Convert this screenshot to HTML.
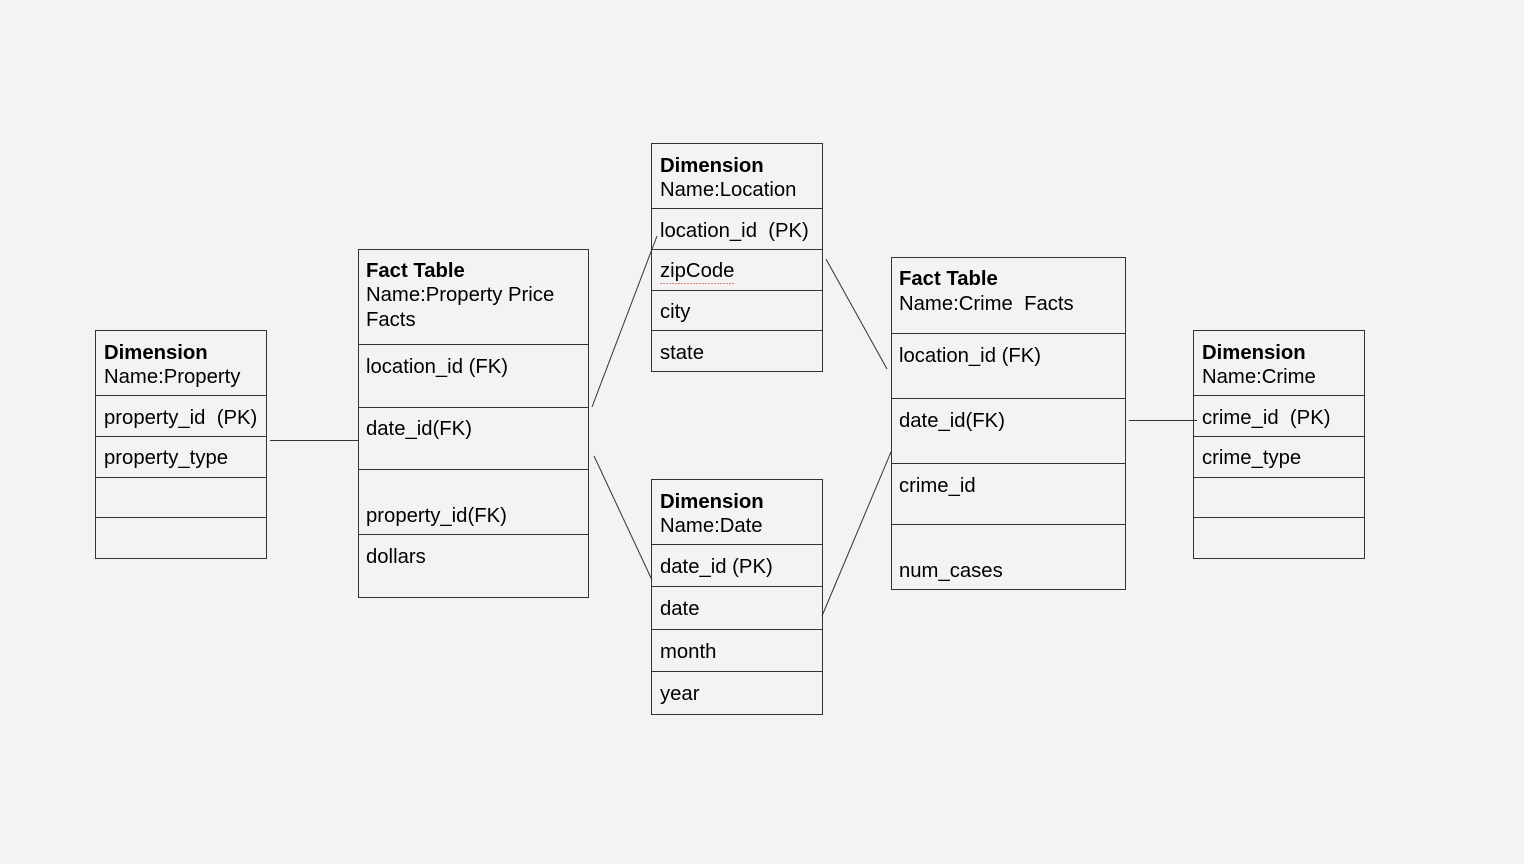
<!DOCTYPE html>
<html><head><style>
html,body{margin:0;padding:0;background:#f3f3f3;}
svg{display:block;}
text{font-family:"Liberation Sans",Arial,sans-serif;font-size:20.3px;fill:#000;}
.b{font-weight:bold;}
rect,line{stroke:#333;stroke-width:1;fill:none;}
</style></head><body>
<svg width="1524" height="864" viewBox="0 0 1524 864">
<rect x="0" y="0" width="1524" height="864" style="fill:#f3f3f3;stroke:none"/>
<g>
<rect x="95.5" y="330.5" width="171" height="228"/>
<line x1="95" y1="395.5" x2="266" y2="395.5"/><line x1="95" y1="436.5" x2="266" y2="436.5"/>
<line x1="95" y1="477.5" x2="266" y2="477.5"/><line x1="95" y1="517.5" x2="266" y2="517.5"/>
<text x="104" y="359" class="b">Dimension</text><text x="104" y="383">Name:Property</text>
<text x="104" y="424">property_id&#160; (PK)</text><text x="104" y="464">property_type</text>
</g>
<g>
<rect x="358.5" y="249.5" width="230" height="348"/>
<line x1="358" y1="344.5" x2="588" y2="344.5"/><line x1="358" y1="407.5" x2="588" y2="407.5"/>
<line x1="358" y1="469.5" x2="588" y2="469.5"/><line x1="358" y1="534.5" x2="588" y2="534.5"/>
<text x="366" y="277" class="b">Fact Table</text><text x="366" y="301">Name:Property Price</text><text x="366" y="326">Facts</text>
<text x="366" y="373">location_id (FK)</text><text x="366" y="435">date_id(FK)</text>
<text x="366" y="522">property_id(FK)</text><text x="366" y="563">dollars</text>
</g>
<g>
<rect x="651.5" y="143.5" width="171" height="228"/>
<line x1="651" y1="208.5" x2="822" y2="208.5"/><line x1="651" y1="249.5" x2="822" y2="249.5"/>
<line x1="651" y1="290.5" x2="822" y2="290.5"/><line x1="651" y1="330.5" x2="822" y2="330.5"/>
<text x="660" y="172" class="b">Dimension</text><text x="660" y="196">Name:Location</text>
<text x="660" y="237">location_id&#160; (PK)</text><text x="660" y="277">zipCode</text>
<line x1="660" y1="283.5" x2="734" y2="283.5" style="stroke:#e08080;stroke-dasharray:2,1"/>
<text x="660" y="318">city</text><text x="660" y="359">state</text>
</g>
<g>
<rect x="651.5" y="479.5" width="171" height="235"/>
<line x1="651" y1="544.5" x2="822" y2="544.5"/><line x1="651" y1="586.5" x2="822" y2="586.5"/>
<line x1="651" y1="629.5" x2="822" y2="629.5"/><line x1="651" y1="671.5" x2="822" y2="671.5"/>
<text x="660" y="508" class="b">Dimension</text><text x="660" y="532">Name:Date</text>
<text x="660" y="573">date_id (PK)</text><text x="660" y="615">date</text>
<text x="660" y="658">month</text><text x="660" y="700">year</text>
</g>
<g>
<rect x="891.5" y="257.5" width="234" height="332"/>
<line x1="891" y1="333.5" x2="1125" y2="333.5"/><line x1="891" y1="398.5" x2="1125" y2="398.5"/>
<line x1="891" y1="463.5" x2="1125" y2="463.5"/><line x1="891" y1="524.5" x2="1125" y2="524.5"/>
<text x="899" y="285" class="b">Fact Table</text><text x="899" y="310">Name:Crime&#160; Facts</text>
<text x="899" y="362">location_id (FK)</text><text x="899" y="427">date_id(FK)</text>
<text x="899" y="492">crime_id</text><text x="899" y="577">num_cases</text>
</g>
<g>
<rect x="1193.5" y="330.5" width="171" height="228"/>
<line x1="1193" y1="395.5" x2="1364" y2="395.5"/><line x1="1193" y1="436.5" x2="1364" y2="436.5"/>
<line x1="1193" y1="477.5" x2="1364" y2="477.5"/><line x1="1193" y1="517.5" x2="1364" y2="517.5"/>
<text x="1202" y="359" class="b">Dimension</text><text x="1202" y="383">Name:Crime</text>
<text x="1202" y="424">crime_id&#160; (PK)</text><text x="1202" y="464">crime_type</text>
</g>
<line x1="270" y1="440.5" x2="358" y2="440.5"/>
<line x1="592" y1="407" x2="657" y2="236"/>
<line x1="594" y1="456" x2="652" y2="580"/>
<line x1="826" y1="259" x2="887" y2="369"/>
<line x1="822" y1="616" x2="891" y2="452"/>
<line x1="1129" y1="420.5" x2="1197" y2="420.5"/>
</svg>
</body></html>
